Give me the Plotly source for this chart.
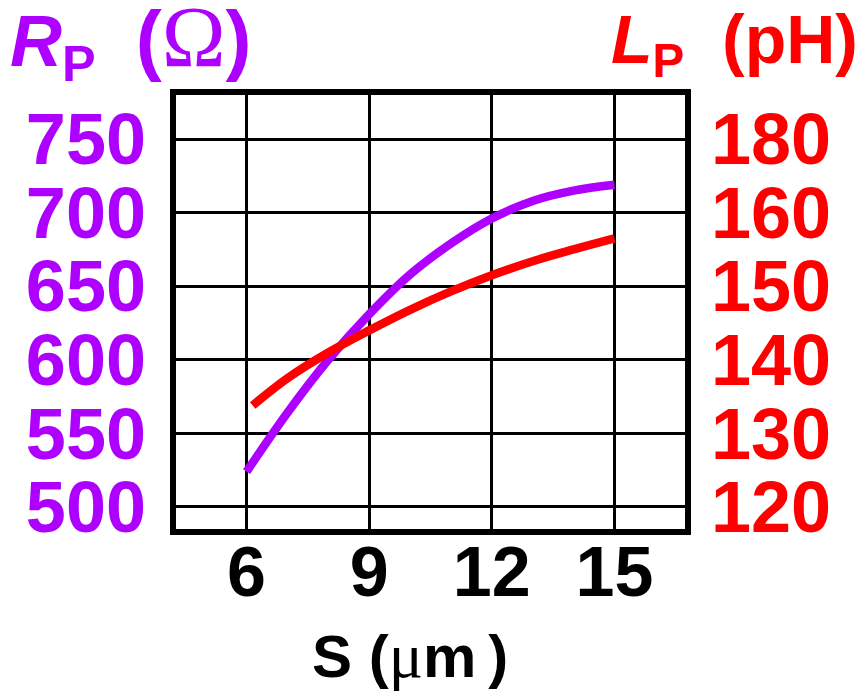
import plotly.graph_objects as go

# Data
s_um = [6, 7, 8, 9, 10, 11, 12, 13, 14, 15]
r_p_ohm = [524, 564, 600, 631, 658, 679, 696, 708, 715, 719]
s_um_l = [6.15, 7, 8, 9, 10, 11, 12, 13, 14, 15]
l_p_ph = [133.8, 137.5, 141.0, 144.0, 146.8, 149.3, 151.5, 153.4, 155.0, 156.5]

x_ticks = [6, 9, 12, 15]
left_ticks = [500, 550, 600, 650, 700, 750]
right_ticks = [120, 130, 140, 150, 160, 170]
right_ticktext = ["120", "130", "140", "150", "160", "180"]

PURPLE = "#AE00FF"
RED = "#FF0000"
FONT = "Liberation Sans"

# page offset of the figure (browser body margin)
OFF = 8
PL, PR, PT, PB = 173, 688, 92, 532  # plot frame in page pixels
W, H = 864 - OFF, 695 - OFF


def px(x):
    return (x - PL) / (PR - PL)


def py(y):
    return (PB - y) / (PB - PT)


fig = go.Figure()
fig.add_trace(go.Scatter(x=s_um, y=r_p_ohm, mode="lines",
                         line=dict(color=PURPLE, width=8.5, shape="spline", smoothing=1.0),
                         yaxis="y", showlegend=False))
fig.add_trace(go.Scatter(x=s_um_l, y=l_p_ph, mode="lines",
                         line=dict(color=RED, width=8.5, shape="spline", smoothing=1.0),
                         yaxis="y2", showlegend=False))

fig.update_layout(
    width=W, height=H,
    margin=dict(l=PL - OFF, r=W - (PR - OFF), t=PT - OFF, b=H - (PB - OFF), autoexpand=False),
    paper_bgcolor="white", plot_bgcolor="white",
    font=dict(family=FONT),
    xaxis=dict(range=[4.2, 16.8], tickvals=x_ticks, showgrid=True, gridcolor="black",
               gridwidth=2.5, zeroline=False, showline=False, ticks="", automargin=False,
               tickfont=dict(family=FONT, size=70, color="black", weight="bold"),
               ticklabelstandoff=-7),
    yaxis=dict(range=[483, 782], tickvals=left_ticks, showgrid=True, gridcolor="black",
               gridwidth=2.5, zeroline=False, showline=False, ticks="", automargin=False,
               tickfont=dict(family=FONT, size=72, color=PURPLE, weight="bold"),
               ticklabelstandoff=26),
    yaxis2=dict(range=[116.6, 176.4], tickvals=right_ticks, ticktext=right_ticktext,
                overlaying="y", side="right", showgrid=False, zeroline=False,
                showline=False, ticks="", automargin=False,
                tickfont=dict(family=FONT, size=72, color=RED, weight="bold"),
                ticklabelstandoff=22),
)

fig.add_shape(type="rect", xref="paper", yref="paper", x0=0, x1=1, y0=0, y1=1,
              line=dict(color="black", width=6), fillcolor="rgba(0,0,0,0)", layer="above")

fig.add_annotation(
    xref="paper", yref="paper", x=px(8), y=py(40), xanchor="left", yanchor="middle",
    text=("<b><i>R</i><sub>P</sub>  <span style='font-size:78px'>(</span></b>"
          "<span style='font-family:Liberation Serif;font-size:86px'>Ω</span>"
          "<b><span style='font-size:78px'>)</span></b>"),
    showarrow=False, font=dict(family=FONT, size=72, color=PURPLE))
fig.add_annotation(
    xref="paper", yref="paper", x=px(860), y=py(44), xanchor="right", yanchor="middle",
    text="<b><i>L</i><sub>P</sub>  (pH)</b>",
    showarrow=False, font=dict(family=FONT, size=68, color=RED))
fig.add_annotation(
    xref="paper", yref="paper", x=px(410), y=py(655), xanchor="center", yanchor="middle",
    text=("<b>S (</b><span style='font-family:Liberation Serif;font-size:64px'>μ</span>"
          "<b>m\u2009)</b>"),
    showarrow=False, font=dict(family=FONT, size=60, color="black"))

fig.write_html("out.html")
